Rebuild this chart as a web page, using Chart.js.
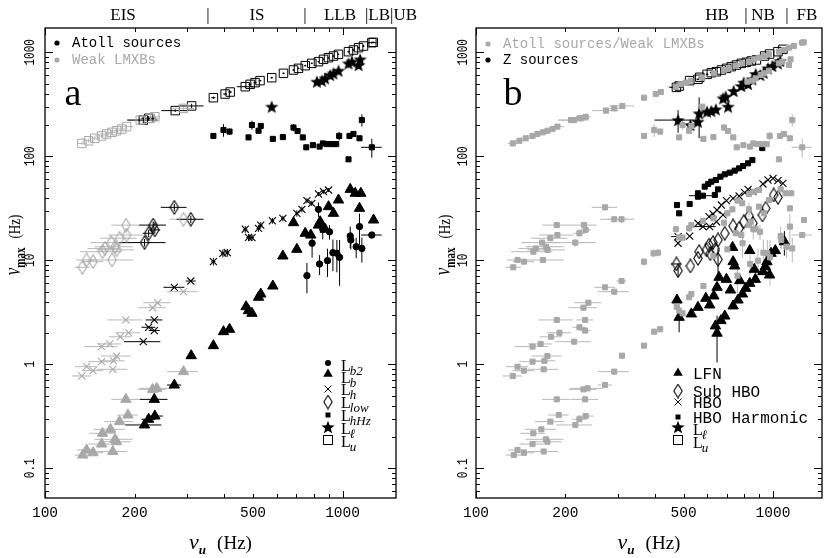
<!DOCTYPE html>
<html><head><meta charset="utf-8">
<script src="https://cdn.jsdelivr.net/npm/chart.js@4.4.1/dist/chart.umd.min.js"></script>
<style>
html,body{margin:0;padding:0;background:#fff;}
#wrap{position:relative;width:830px;height:558px;overflow:hidden;background:#fff;}
canvas{position:absolute;top:0;}
</style></head><body>
<div id="wrap">
<canvas id="cA" width="430" height="558" style="left:0px"></canvas>
<canvas id="cB" width="415" height="558" style="left:415px"></canvas>
</div>
<script>
// ---------- DATA: [nu_u (Hz), nu_max (Hz), x half-error (Hz), y half-error (Hz)] ----------
const xTickValues = [100, 200, 500, 1000];
const xTickLabels = ['100', '200', '500', '1000'];
const yTickValues = [0.1, 1, 10, 100, 1000];
const yTickLabels = ['0.1', '1', '10', '100', '1000'];

// Panel a: atoll sources (black) and weak LMXBs (gray)
const LuAtoll = [[214,223,25,15],[223,232,12,12],[274,275,28,8],[311,305,30,15],[368,366,6,10],[403,397,6,10],[419,415,6,12],[471,467,30,12],[489,492,6,10],[508,511,6,10],[528,534,6,10],[578,570,6,12],[633,628,6,12],[684,676,6,12],[711,701,6,12],[749,744,6,14],[788,783,6,14],[830,813,6,14],[863,856,6,14],[897,888,6,14],[932,921,6,14],[969,956,6,14],[1047,1014,10,20],[1088,1052,10,20],[1132,1108,10,20],[1176,1149,10,20],[1254,1238,45,25],[1268,1247,10,20]];
const LuWeak = [[133,133,5,5],[140,141,6,6],[147,149,6,6],[155,157,8,6],[161,164,8,8],[168,170,8,8],[174,176,8,8],[181,183,8,8],[188,193,10,8],[209,223,20,10],[226,232,15,10],[234,240,10,10],[292,289,25,12]];
const LlAtoll = [[578,300,0,0],[820,522,0,0],[852,534,0,0],[874,562,0,0],[909,605,0,0],[932,628,0,0],[969,666,0,0],[1047,783,0,0],[1075,813,0,0],[1132,755,0,0],[1146,856,0,0]];
const LhHzAtoll = [[368,157,0,0],[398,179,0,25],[417,173,0,12],[483,152,0,0],[496,200,0,20],[522,176,0,0],[531,196,0,0],[583,147,0,0],[630,153,0,0],[684,189,0,15],[706,175,0,10],[735,152,0,0],[755,122,0,0],[795,128,0,0],[837,124,0,0],[859,133,0,0],[886,131,0,0],[921,131,0,0],[952,131,0,0],[974,157,0,15],[1047,93.5,20,0],[1055,157,0,0],[1088,164,0,0],[1140,149,0,0],[1161,223,0,30],[1254,122,100,25]];
const Lb2Atoll = [[830,30.9,0,5],[790,14.6,0,4],[759,7.12,0,2.3],[837,9.22,0,2],[890,9.92,0,3],[928,11.84,0,4],[957,11.67,0,4],[977,10.68,0,5],[904,18.8,0,3],[858,19.9,0,4],[1061,17.1,0,4],[1066,15.7,0,3],[1111,13.5,0,3],[1140,21.1,0,7],[1161,13,0,3.5],[1254,17.5,100,0]];
const LbAtoll = [[216,0.261,30,0],[223,0.296,12,0],[234,0.318,15,0],[233,0.46,25,0],[272,0.632,15,0],[310,1.21,0,0],[368,1.51,0,0],[398,2.06,0,0],[417,2.17,0,0],[474,3.58,0,0],[483,3.28,0,0],[496,3.09,0,0],[522,4.41,0,0],[531,4.74,0,0],[583,5.66,0,0],[630,11.0,0,0],[702,12.75,0,0],[684,23.0,0,0],[749,18.2,0,0],[782,17.5,0,0],[830,21.8,0,0],[841,23.5,0,0],[874,19.9,0,0],[897,32.8,0,0],[932,28.3,0,0],[969,38.0,0,0],[1061,48.1,0,0],[1103,44.1,0,0],[1152,44.1,0,0],[1140,31.6,0,0],[1271,24.4,0,0]];
const LbWeak = [[134,0.134,8,0],[138,0.15,10,0],[145,0.141,12,0],[169,0.145,20,0],[174,0.18,20,0],[172,0.19,25,0],[155,0.171,15,0],[156,0.217,15,0],[166,0.237,20,0],[178,0.281,20,0],[190,0.325,15,0],[187,0.46,20,0],[230,0.574,25,0],[237.5,0.587,30,0],[292,0.85,35,0]];
const LhAtoll = [[214,1.65,30,0],[233,2.11,10,0],[223,2.27,12,0],[233,2.67,15,0],[272,5.5,22,0],[309,6.32,12,0],[368,9.7,6,0.8],[396,11.67,6,1],[410,11.84,6,1],[471,19.9,8,1.5],[483,16.6,8,1.2],[496,16.5,8,1.2],[522,20.3,8,1.5],[531,21.8,8,1.5],[581,24.0,8,1.5],[630,25.3,8,1.5],[702,28.3,8,2],[730,30.9,8,2],[759,37.5,8,2],[788,35.3,8,2],[830,43.4,8,2],[863,45.7,8,2],[897,47.4,8,2]];
const LhWeak = [[133,0.772,10,0],[145,0.869,12,0],[138,0.949,12,0],[169,0.895,20,0],[155,1.06,15,0],[170,1.08,15,0],[174,1.2,20,0],[155,1.48,20,0],[165,1.57,15,0],[179,1.84,15,0],[191,2.01,18,0],[187,2.67,25,0],[230,3.5,25,0],[239,3.91,25,0],[292,4.99,35,0]];
const LlowAtoll = [[216,14.8,38,1.2],[223,18.2,10,1.5],[234,19.6,10,1.5],[231,21.8,24,1.8],[272,32.3,27,2.5],[309,24.8,32,2]];
const LlowWeak = [[133.5,8.56,8,0],[145,9.7,12,0],[138,10.07,11,0],[168,10.07,30,0],[156,12.1,25,0],[174,12.6,25,0],[159,13.0,20,0],[172,13.5,25,0],[167,14.8,25,0],[178,16.3,25,0],[188,17.5,25,0],[187,21.8,20,0],[292,24.8,30,0]];

// Panel b: Z sources (black)
const LuZ = [[473,460,25,15],[483,474,6,12],[524,534,6,12],[559,550,6,12],[567,575,6,12],[600,614,6,12],[620,637,6,12],[645,651,6,12],[670,676,6,12],[697,701,6,12],[724,728,6,14],[753,755,6,14],[782,783,6,14],[813,801,6,14],[845,825,6,14],[879,844,6,14],[937,921,8,16],[974,963,8,16],[1039,1014,8,16],[1080,1068,8,16]];
const LlZ = [[479,223,80,55],[527,200,0,0],[559,215,0,0],[564,259,0,110],[600,269,0,0],[620,273,0,0],[642,283,0,0],[679,361,0,0],[706,300,0,0],[693,375,0,0],[737,425,0,0],[782,474,0,0],[797,511,0,0],[824,496,0,0],[852,550,0,0],[874,619,0,0],[907,605,0,0],[930,637,0,0],[962,701,0,0],[995,739,0,0],[1039,783,0,0],[1058,825,0,0]];
const HboHarmZ = [[475,34,0,0],[483,28.3,0,0],[524,34.8,0,0],[559,40.9,0,0],[559,44.1,0,0],[581,41.8,60,0],[589,51.1,0,0],[605,54.2,0,0],[620,57,0,0],[637,42.5,0,0],[642,59.2,0,0],[653,48.1,0,0],[665,63.7,0,0],[688,67.1,0,0],[715,69.6,0,0],[743,72.8,0,0],[769,76.6,0,0],[793,80.7,0,0],[824,85.6,0,0],[852,92,0,0],[920,120,0,0]];
const HboZ = [[479,14.6,0,0],[479,16.9,25,0],[524,17.1,0,0],[559,22.7,0,0],[581,21.1,60,0],[609,26.3,0,0],[612,21.1,0,0],[628,27.9,0,0],[645,23.5,0,0],[648,30.4,0,0],[670,34,0,0],[679,27.3,0,0],[697,37.5,0,0],[734,39.4,0,0],[769,41.5,0,0],[803,44.7,0,0],[824,48.1,0,0],[856,45.7,0,0],[925,54.2,0,0],[962,59.2,0,0],[1000,61.4,0,0],[1039,58.3,0,0],[1080,55,0,0]];
const SubHboZ = [[473,9.22,20,0],[479,7.95,0,1],[527,8.82,0,0],[559,10.45,0,0],[564,12.1,0,0],[597,12.6,0,0],[609,14,0,0],[615,11.6,0,0],[628,14.8,0,0],[640,12.7,0,0],[653,10.2,0,3],[653,15.7,0,0],[688,18.2,0,0],[734,21.4,0,0],[769,20.3,0,0],[797,23.5,0,0],[831,26.7,0,0],[856,22.7,0,0],[921,27.3,0,0],[945,31.6,0,0],[1005,42.5,0,0],[1039,40.3,0,0]];
const LfnZ = [[475,4.15,0,0],[483,2.83,0,0.8],[531,3.05,0,0],[559,3.53,0,0],[594,4.31,0,0],[612,3.72,0,0],[632,4.54,0,0],[640,2.34,0,0],[648,1.99,0,0.95],[648,5.5,0,0],[658,6.86,0,0],[668,2.63,0,0],[688,2.91,0,0],[697,6.56,0,0],[719,5.18,0,0],[731,13.3,0,0],[734,9.7,0,0],[734,3.64,0,0],[743,8.82,0,0],[762,4.15,0,0],[773,6.37,0,0],[789,4.74,0,0],[809,5.38,0,0],[835,6.0,0,0],[835,12.4,0,0],[865,8.19,0,0],[872,6.56,0,0],[925,7.78,0,0],[942,8.69,0,0],[954,9.7,0,0],[974,7.22,0,0],[985,11.67,0,0],[1018,12.4,0,0],[1092,15.1,0,4]];

// ---------- STYLE ----------
const BLACK = '#000000', GRAY = '#a8a8a8', GRAYBAR = '#b8b8b8';
const MONO = '"Liberation Mono", "DejaVu Sans Mono", monospace';
const SERIF = '"Liberation Serif", "DejaVu Serif", serif';

function starImg(size, color) {
  const c = document.createElement('canvas'); c.width = size; c.height = size;
  const g = c.getContext('2d'); g.fillStyle = color; g.beginPath();
  const R = size / 2, r = R * 0.42, cy = R + R * 0.1;
  for (let k = 0; k < 10; k++) {
    const ang = -Math.PI / 2 + k * Math.PI / 5, rad = (k % 2) ? r : R;
    g.lineTo(R + rad * Math.cos(ang), cy + rad * Math.sin(ang));
  }
  g.closePath(); g.fill(); return c;
}
function diamondImg(w, h, color) {
  const c = document.createElement('canvas'); c.width = w; c.height = h;
  const g = c.getContext('2d'); g.strokeStyle = color; g.lineWidth = 1.1; g.beginPath();
  g.moveTo(w / 2, 0.8); g.lineTo(w - 0.8, h / 2); g.lineTo(w / 2, h - 0.8); g.lineTo(0.8, h / 2); g.closePath(); g.stroke();
  return c;
}
const starBlack = starImg(14, BLACK);
const diaBlack = diamondImg(10, 15, BLACK);
const diaGray = diamondImg(10, 15, GRAY);

function ds(label, arr, style, color, radius, filled, barColor, bw) {
  return {
    label, data: arr.map(p => ({x: p[0], y: p[1]})),
    errs: arr.map(p => [p[2] || 0, p[3] || 0]), barColor: barColor || color,
    pointStyle: style, pointRadius: radius, pointHoverRadius: radius,
    pointBackgroundColor: filled ? color : 'rgba(0,0,0,0)', pointBorderColor: color,
    pointBorderWidth: bw || 1, showLine: false
  };
}

// ---------- PLUGINS ----------
const errorBars = {
  id: 'errorBars',
  beforeDatasetsDraw(chart) {
    const {ctx, chartArea: a, scales: {x, y}} = chart;
    ctx.save(); ctx.beginPath(); ctx.rect(a.left, a.top, a.right - a.left, a.bottom - a.top); ctx.clip();
    ctx.lineWidth = 1;
    chart.data.datasets.forEach(d => {
      if (!d.errs) return;
      ctx.strokeStyle = d.barColor;
      d.data.forEach((p, j) => {
        const [ex, ey] = d.errs[j];
        const px = x.getPixelForValue(p.x), py = y.getPixelForValue(p.y);
        ctx.beginPath();
        if (ex > 0) { ctx.moveTo(x.getPixelForValue(Math.max(p.x - ex, 1)), py); ctx.lineTo(x.getPixelForValue(p.x + ex), py); }
        if (ey > 0) { ctx.moveTo(px, y.getPixelForValue(Math.max(p.y - ey, p.y * 0.05))); ctx.lineTo(px, y.getPixelForValue(p.y + ey)); }
        ctx.stroke();
      });
    });
    ctx.restore();
  }
};

function txt(ctx, s, x, y, font, color, align, baseline, sx) {
  ctx.save(); ctx.translate(x, y); ctx.scale(sx || 1, 1);
  ctx.font = font; ctx.fillStyle = color; ctx.textAlign = align || 'left'; ctx.textBaseline = baseline || 'alphabetic';
  ctx.fillText(s, 0, 0); ctx.restore();
}
function rtxt(ctx, s, x, y, font, sx) {
  ctx.save(); ctx.translate(x, y); ctx.scale(sx || 1, 1); ctx.rotate(-Math.PI / 2);
  ctx.font = font; ctx.fillStyle = BLACK; ctx.textAlign = 'center'; ctx.textBaseline = 'middle';
  ctx.fillText(s, 0, 0); ctx.restore();
}
function sym(ctx, type, x, y) {
  ctx.save(); ctx.fillStyle = BLACK; ctx.strokeStyle = BLACK; ctx.lineWidth = 1;
  if (type === 'circle') { ctx.beginPath(); ctx.arc(x, y, 3, 0, 2 * Math.PI); ctx.fill(); }
  else if (type === 'triangle') { ctx.beginPath(); ctx.moveTo(x, y - 5.5); ctx.lineTo(x + 4.8, y + 2.8); ctx.lineTo(x - 4.8, y + 2.8); ctx.closePath(); ctx.fill(); }
  else if (type === 'cross') { ctx.beginPath(); ctx.moveTo(x - 3.5, y - 3.5); ctx.lineTo(x + 3.5, y + 3.5); ctx.moveTo(x + 3.5, y - 3.5); ctx.lineTo(x - 3.5, y + 3.5); ctx.stroke(); }
  else if (type === 'diamond') { ctx.drawImage(diaBlack, x - 5, y - 7.5); }
  else if (type === 'rect') { ctx.fillRect(x - 2.5, y - 2.5, 5, 5); }
  else if (type === 'star') { ctx.drawImage(starBlack, x - 7, y - 7); }
  else if (type === 'open') { ctx.strokeRect(x - 4.5, y - 4.5, 9, 9); }
  ctx.restore();
}
function Lsub(ctx, x, y, sub, size) {
  ctx.save(); ctx.fillStyle = BLACK; ctx.textBaseline = 'alphabetic'; ctx.textAlign = 'left';
  ctx.font = size + 'px ' + SERIF; ctx.fillText('L', x, y);
  const w = ctx.measureText('L').width;
  ctx.font = 'italic ' + Math.round(size * 0.8) + 'px ' + SERIF; ctx.fillText(sub, x + w - 1, y + 4);
  ctx.restore();
}

function makeFrame(P) {
  return {
    id: 'frame' + P.name,
    afterDraw(chart) {
      const {ctx, chartArea: a, scales: {x, y}} = chart;
      ctx.save();
      const seg = (x1, y1, x2, y2) => { ctx.beginPath(); ctx.moveTo(x1, y1); ctx.lineTo(x2, y2); ctx.stroke(); };
      ctx.strokeStyle = BLACK; ctx.lineWidth = 1;
      for (const d of [100, 1000]) for (let k = 1; k < 10; k++) {
        const v = d * k; if (v < x.min || v > x.max) continue;
        const px = Math.round(x.getPixelForValue(v)) + 0.5, L = (k === 1) ? 7 : 4;
        seg(px, a.bottom, px, a.bottom - L); seg(px, a.top, px, a.top + L);
      }
      for (const d of [0.01, 0.1, 1, 10, 100, 1000]) for (let k = 1; k < 10; k++) {
        const v = d * k; if (v < y.min || v > y.max) continue;
        const py = Math.round(y.getPixelForValue(v)) + 0.5, L = (k === 1) ? 8 : 4;
        seg(a.left, py, a.left + L, py); seg(a.right, py, a.right - L, py);
      }
      ctx.lineWidth = 1.3; ctx.strokeRect(a.left, a.top, a.right - a.left, a.bottom - a.top);
      // tick labels
      xTickValues.forEach((v, i) => txt(ctx, xTickLabels[i], x.getPixelForValue(v), a.bottom + 15, '14.5px ' + MONO, BLACK, 'center', 'middle'));
      yTickValues.forEach((v, i) => rtxt(ctx, yTickLabels[i], a.left - P.yLabGap, y.getPixelForValue(v), '11px ' + MONO, 1.35));
      // x title
      {
        const cx = (a.left + a.right) / 2, base = 549;
        ctx.font = 'italic 22px ' + SERIF; const w1 = ctx.measureText('ν').width;
        ctx.font = 'bold italic 13px ' + SERIF; const w2 = ctx.measureText('u').width;
        ctx.font = '19px ' + SERIF; const w3 = ctx.measureText('(Hz)').width;
        const gap = 11; let x0 = cx - (w1 + w2 + gap + w3) / 2;
        txt(ctx, 'ν', x0, base, 'italic 22px ' + SERIF, BLACK); x0 += w1;
        txt(ctx, 'u', x0, base + 5, 'bold italic 13px ' + SERIF, BLACK); x0 += w2 + gap;
        txt(ctx, '(Hz)', x0, base, '19px ' + SERIF, BLACK);
      }
      // y title (rotated)
      {
        ctx.save(); ctx.translate(P.yTitleX, 245); ctx.scale(1.3, 1); ctx.rotate(-Math.PI / 2);
        ctx.fillStyle = BLACK; ctx.textBaseline = 'alphabetic'; ctx.textAlign = 'left';
        const f1 = 'italic 17px ' + SERIF, f2 = 'bold 11px ' + SERIF, f3 = '13px ' + SERIF;
        ctx.font = f1; const w1 = ctx.measureText('ν').width;
        ctx.font = f2; const w2 = ctx.measureText('max').width;
        ctx.font = f3; const w3 = ctx.measureText('(Hz)').width;
        const gap = 9; let x0 = -(w1 + w2 + gap + w3) / 2; const base = 3;
        ctx.font = f1; ctx.fillText('ν', x0, base); x0 += w1;
        ctx.font = f2; ctx.fillText('max', x0, base + 4); x0 += w2 + gap;
        ctx.font = f3; ctx.fillText('(Hz)', x0, base);
        ctx.restore();
      }
      // region labels on top
      P.regions.forEach(r => txt(ctx, r[0], r[1], 20, '17px ' + SERIF, BLACK, 'center'));
      // panel letter
      txt(ctx, P.letter[0], P.letter[1], P.letter[2], '38px ' + SERIF, BLACK, 'center');
      // top legend
      P.topLegend.forEach(r => {
        ctx.fillStyle = r[1]; ctx.beginPath(); ctx.arc(P.dotX, r[2], 2.6, 0, 2 * Math.PI); ctx.fill();
        txt(ctx, r[0], P.dotX + 15, r[2], '14px ' + MONO, r[1], 'left', 'middle');
      });
      // symbol legend
      P.symLegend.forEach(r => {
        sym(ctx, r[0], P.symX, r[2]);
        if (Array.isArray(r[1])) Lsub(ctx, P.labX, r[2] + r[3], r[1][1], P.labSize);
        else txt(ctx, r[1], P.labX, r[2] + r[3], '16px ' + MONO, BLACK, 'left', 'alphabetic');
      });
      ctx.restore();
    }
  };
}

const panelA = {
  name: 'A', yLabGap: 15, yTitleX: 16,
  regions: [['EIS', 123], ['|', 208], ['IS', 257], ['|', 305], ['LLB', 340], ['|LB|UB', 391]],
  letter: ['a', 73, 105],
  dotX: 57,
  topLegend: [['Atoll sources', BLACK, 43], ['Weak LMXBs', GRAY, 60]],
  symX: 328, labX: 341, labSize: 16,
  symLegend: [['circle', ['L', 'b2'], 363, 8], ['triangle', ['L', 'b'], 374, 9], ['cross', ['L', 'h'], 389, 6], ['diamond', ['L', 'low'], 402, 6], ['rect', ['L', 'hHz'], 415, 6], ['star', ['L', 'ℓ'], 427, 7], ['open', ['L', 'u'], 440, 7]]
};
const panelB = {
  name: 'B', yLabGap: 13, yTitleX: 31,
  regions: [['HB', 302], ['|', 331], ['NB', 348], ['|', 372], ['FB', 392]],
  letter: ['b', 98, 105],
  dotX: 73,
  topLegend: [['Atoll sources/Weak LMXBs', GRAY, 44], ['Z sources', BLACK, 60]],
  symX: 263, labX: 278, labSize: 16,
  symLegend: [['triangle', 'LFN', 373, 6], ['diamond', 'Sub HBO', 391, 6], ['cross', 'HBO', 402, 6], ['rect', 'HBO Harmonic', 417, 6], ['star', ['L', 'ℓ'], 427, 8], ['open', ['L', 'u'], 440, 8]]
};

function makeOptions(pad, xmax) {
  return {
    responsive: false, animation: false, events: [],
    layout: {padding: pad},
    plugins: {legend: {display: false}, tooltip: {enabled: false}},
    scales: {
      x: {type: 'logarithmic', min: 100, max: xmax, display: false, bounds: 'data'},
      y: {type: 'logarithmic', min: 0.0518, max: 1713, display: false, bounds: 'data'}
    }
  };
}

// ---------- PANEL a ----------
new Chart(document.getElementById('cA'), {
  type: 'scatter',
  data: {datasets: [
    ds('Lu weak', LuWeak, 'rect', GRAY, 6, false, GRAYBAR),
    ds('Lb weak', LbWeak, 'triangle', GRAY, 6, true, GRAYBAR),
    ds('Lh weak', LhWeak, 'crossRot', GRAY, 5, false, GRAYBAR, 1.1),
    ds('Llow weak', LlowWeak, diaGray, GRAY, 5, false, GRAYBAR),
    ds('Lu atoll', LuAtoll, 'rect', BLACK, 6, false),
    ds('Ll atoll', LlAtoll, starBlack, BLACK, 5, true),
    ds('LhHz atoll', LhHzAtoll, 'rect', BLACK, 3.6, true),
    ds('Lb2 atoll', Lb2Atoll, 'circle', BLACK, 3.2, true),
    ds('Lb atoll', LbAtoll, 'triangle', BLACK, 6, true),
    ds('Lh atoll', LhAtoll, 'crossRot', BLACK, 5, false, BLACK, 1.1),
    ds('Llow atoll', LlowAtoll, diaBlack, BLACK, 5, false)
  ]},
  options: makeOptions({left: 45, right: 34, top: 28, bottom: 60}, 1512),
  plugins: [errorBars, makeFrame(panelA)]
});

// ---------- PANEL b ----------
const atollAll = [].concat(LuAtoll, LuWeak, LlAtoll, LhHzAtoll, Lb2Atoll, LbAtoll, LbWeak, LhAtoll, LhWeak, LlowAtoll, LlowWeak);
new Chart(document.getElementById('cB'), {
  type: 'scatter',
  data: {datasets: [
    ds('Atoll sources/Weak LMXBs', atollAll, 'rect', GRAY, 3.6, true, GRAYBAR),
    ds('Lu Z', LuZ, 'rect', BLACK, 6, false),
    ds('Ll Z', LlZ, starBlack, BLACK, 5, true),
    ds('HBO harmonic', HboHarmZ, 'rect', BLACK, 3.6, true),
    ds('HBO', HboZ, 'crossRot', BLACK, 5, false, BLACK, 1.1),
    ds('Sub HBO', SubHboZ, diaBlack, BLACK, 5, false),
    ds('LFN', LfnZ, 'triangle', BLACK, 6, true)
  ]},
  options: makeOptions({left: 61, right: 8, top: 28, bottom: 60}, 1462),
  plugins: [errorBars, makeFrame(panelB)]
});
</script>
</body></html>
